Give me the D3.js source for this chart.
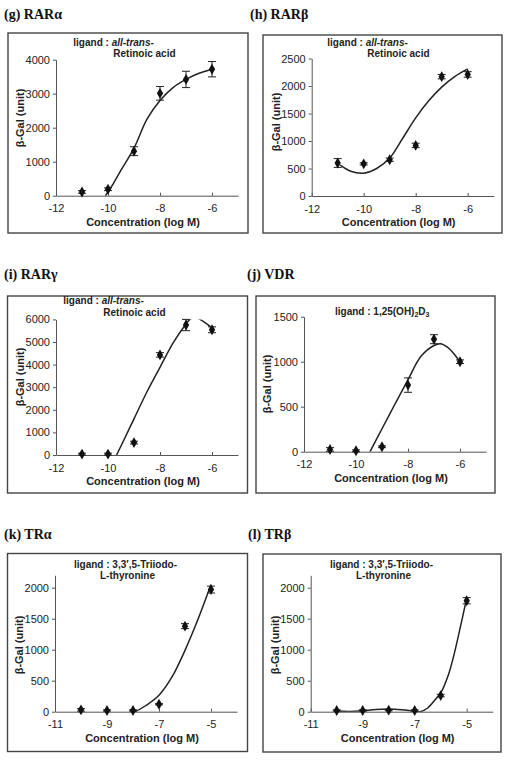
<!DOCTYPE html>
<html><head><meta charset="utf-8">
<script src="https://cdn.jsdelivr.net/npm/d3@7/dist/d3.min.js"></script>
<style>
body{margin:0;background:#fff;}
svg{display:block;}
text{font-family:"Liberation Sans",Arial,sans-serif;fill:#222;}
.title{font-family:"Liberation Serif","Times New Roman",serif;font-weight:bold;font-size:14px;fill:#111;}
</style></head>
<body>
<svg id="c" width="506" height="766"></svg>
<script>
// ---- data ----
const concRAR = [-11, -10, -9, -8, -7, -6];
const concTRa = [-10, -9, -8, -7, -6, -5];
const concTRb = [-10, -9, -8, -7, -6, -5];

const gY   = [110, 190, 1310, 3010, 3420, 3720];
const gErr = [40, 40, 130, 200, 240, 225];
const gCurveX = [-10.1, -9.8, -9.5, -9.0, -8.5, -8.0, -7.5, -7.0, -6.5, -6.0];
const gCurveY = [0, 350, 750, 1400, 2250, 2800, 3180, 3420, 3600, 3720];

const hY   = [600, 585, 660, 920, 2170, 2210];
const hErr = [80, 20, 30, 40, 40, 50];
const hCurveX = [-10.9, -10.5, -10.0, -9.5, -9.0, -8.5, -8.0, -7.5, -7.0, -6.5, -6.0];
const hCurveY = [560, 450, 415, 500, 690, 1050, 1420, 1730, 1980, 2170, 2310];

const iY   = [40, 40, 550, 4430, 5750, 5540];
const iErr = [40, 40, 60, 100, 250, 130];
const iCurveX = [-9.67, -9.5, -9.0, -8.5, -8.0, -7.5, -7.0, -6.85, -6.65, -6.46, -6.2, -6.0];
const iCurveY = [0, 400, 1600, 2800, 3880, 4950, 5800, 6000, 6100, 6000, 5800, 5620];

const jY   = [25, 10, 55, 740, 1250, 1000];
const jErr = [20, 10, 10, 80, 50, 20];
const jCurveX = [-9.46, -9.0, -8.5, -8.0, -7.5, -7.0, -6.75, -6.5, -6.25, -6.0];
const jCurveY = [0, 255, 530, 800, 1060, 1180, 1200, 1165, 1095, 1000];

const kY   = [30, 20, 20, 120, 1380, 1970];
const kErr = [20, 10, 10, 10, 40, 55];
const kCurveX = [-7.92, -7.5, -7.0, -6.5, -6.0, -5.5, -5.0];
const kCurveY = [0, 100, 265, 560, 990, 1490, 2050];

const lY   = [20, 20, 25, 20, 260, 1790];
const lErr = [10, 10, 10, 10, 20, 50];
const lCurveX = [-10.0, -9.5, -9.0, -8.5, -8.0, -7.5, -7.0, -6.8, -6.5, -6.2, -6.0, -5.7, -5.5, -5.3, -5.0];
const lCurveY = [10, 5, 15, 35, 42, 30, 8, 0, 60, 200, 300, 600, 900, 1260, 1830];

const ticksRAR = [-12, -10, -8, -6];
const ticksTR  = [-11, -9, -7, -5];
const yTicksG = [0, 1000, 2000, 3000, 4000];
const yTicksH = [0, 500, 1000, 1500, 2000, 2500];
const yTicksI = [0, 1000, 2000, 3000, 4000, 5000, 6000];
const yTicksJ = [0, 500, 1000, 1500];
const yTicksT = [0, 500, 1000, 1500, 2000];

const titles = ["(g) RAR\u03b1", "(h) RAR\u03b2", "(i) RAR\u03b3", "(j) VDR", "(k) TR\u03b1", "(l) TR\u03b2"];
const xLabel = "Concentration (log M)";
const yLabel = "\u03b2-Gal (unit)";

// ---- layout ----
const panels = [
  {title:titles[0], tx:4, ty:19, frame:[8,33,240,200], xd:[-12,-5], xr:[56,238], yd:[0,4000], yr:[195.7,59.7],
   xt:ticksRAR, yt:yTicksG, x:concRAR, y:gY, e:gErr, cx:gCurveX, cy:gCurveY, lig:"rar", lx:73.3, ly:45.5, ylx:20, yly:118},
  {title:titles[1], tx:250, ty:19, frame:[263,35,239,198], xd:[-12,-5], xr:[311.7,493.7], yd:[0,2500], yr:[196,58.5],
   xt:ticksRAR, yt:yTicksH, x:concRAR, y:hY, e:hErr, cx:hCurveX, cy:hCurveY, lig:"rar", lx:327.3, ly:45.5, ylx:276.5, yly:122},
  {title:titles[2], tx:4, ty:279, frame:[7.5,296,240,197], xd:[-12,-5], xr:[56,238], yd:[0,6000], yr:[455,319.4],
   xt:ticksRAR, yt:yTicksI, x:concRAR, y:iY, e:iErr, cx:iCurveX, cy:iCurveY, lig:"rar", lx:63.3, ly:304, ylx:20, yly:377},
  {title:titles[3], tx:247, ty:279, frame:[256,296,239,197], xd:[-12,-5], xr:[304,486], yd:[0,1500], yr:[451.7,316.7],
   xt:ticksRAR, yt:yTicksJ, x:concRAR, y:jY, e:jErr, cx:jCurveX, cy:jCurveY, lig:"vdr", lx:335, ly:314.5, ylx:267, yly:384},
  {title:titles[4], tx:4, ty:538.5, frame:[7.5,553.5,240,198], xd:[-11,-4], xr:[55,237], yd:[0,2200], yr:[711.7,575.3],
   xt:ticksTR, yt:yTicksT, x:concTRa, y:kY, e:kErr, cx:kCurveX, cy:kCurveY, lig:"tr", lx:74, ly:567.5, ylx:19, yly:645},
  {title:titles[5], tx:248, ty:538.5, frame:[263,554,238,198], xd:[-11,-4], xr:[310.7,492.7], yd:[0,2200], yr:[711.7,575.3],
   xt:ticksTR, yt:yTicksT, x:concTRb, y:lY, e:lErr, cx:lCurveX, cy:lCurveY, lig:"tr", lx:330, ly:567.5, ylx:275, yly:645}
];

const svg = d3.select("#c");
const diamond = d3.symbol().type(d3.symbolDiamond).size(34);

panels.forEach((p, pi) => {
  const g = svg.append("g");
  g.append("text").attr("class","title").attr("x",p.tx).attr("y",p.ty).text(p.title);
  const [fx,fy,fw,fh] = p.frame;
  g.append("rect").attr("x",fx).attr("y",fy).attr("width",fw).attr("height",fh)
    .attr("fill","#fff").attr("stroke","#444").attr("stroke-width",1.4);

  const xs = d3.scaleLinear().domain(p.xd).range(p.xr);
  const ys = d3.scaleLinear().domain(p.yd).range(p.yr);

  // y axis
  const ya = g.append("g").attr("transform",`translate(${p.xr[0]},0)`)
    .call(d3.axisLeft(ys).tickValues(p.yt).tickSize(3).tickSizeOuter(0).tickPadding(3));
  ya.select(".domain").attr("stroke","#555");
  ya.selectAll(".tick line").attr("stroke","#555");
  ya.selectAll("text").style("font-size","11px").attr("fill","#222").style("font-family","'Liberation Sans',Arial,sans-serif");
  ya.selectAll(".tick text").text(d => String(d));

  // x axis (ticks inside)
  const xa = g.append("g").attr("transform",`translate(0,${p.yr[0]})`)
    .call(d3.axisBottom(xs).tickValues(p.xt).tickSizeInner(-3).tickSizeOuter(0).tickPadding(9));
  xa.select(".domain").attr("stroke","#555");
  xa.selectAll(".tick line").attr("stroke","#555");
  xa.selectAll("text").style("font-size","11px").attr("fill","#222").style("font-family","'Liberation Sans',Arial,sans-serif");
  xa.selectAll(".tick text").text(d => String(d));

  // labels
  g.append("text").attr("x",(p.xr[0]+p.xr[1])/2 - 4).attr("y",p.yr[0]+30)
    .attr("text-anchor","middle").style("font-size","11px").style("font-weight","bold").text(xLabel);
  g.append("text").attr("transform",`translate(${p.ylx},${p.yly}) rotate(-90)`)
    .attr("text-anchor","middle").style("font-size","11px").style("font-weight","bold").attr("dy","0.35em").text(yLabel);

  // ligand annotation
  const fs = "10px", gap = 11.5;
  if (p.lig === "rar") {
    const t = g.append("text").attr("x",p.lx).attr("y",p.ly).style("font-size",fs).style("font-weight","bold");
    t.append("tspan").text("ligand : ");
    t.append("tspan").style("font-style","italic").text("all-trans-");
    g.append("text").attr("x",p.lx+40).attr("y",p.ly+gap).style("font-size",fs).style("font-weight","bold").text("Retinoic acid");
  } else if (p.lig === "vdr") {
    const t = g.append("text").attr("x",p.lx).attr("y",p.ly).style("font-size",fs).style("font-weight","bold");
    t.append("tspan").text("ligand : 1,25(OH)");
    t.append("tspan").attr("dy",2.5).style("font-size","7px").text("2");
    t.append("tspan").attr("dy",-2.5).text("D");
    t.append("tspan").attr("dy",2.5).style("font-size","7px").text("3");
  } else {
    g.append("text").attr("x",p.lx).attr("y",p.ly).style("font-size",fs).style("font-weight","bold").text("ligand : 3,3\u2032,5-Triiodo-");
    g.append("text").attr("x",p.lx+26).attr("y",p.ly+gap).style("font-size",fs).style("font-weight","bold").text("L-thyronine");
  }

  // clip for curve
  const cid = "clip"+pi;
  svg.append("clipPath").attr("id",cid).append("rect")
    .attr("x",p.xr[0]).attr("y",p.yr[1]).attr("width",p.xr[1]-p.xr[0]).attr("height",p.yr[0]-p.yr[1]);
  const cpts = p.cx.map((v,i)=>[v,p.cy[i]]);
  g.append("path").datum(cpts).attr("clip-path",`url(#${cid})`)
    .attr("fill","none").attr("stroke","#222").attr("stroke-width",1.5)
    .attr("d", d3.line().x(d=>xs(d[0])).y(d=>ys(d[1])).curve(d3.curveCatmullRom.alpha(0.5)));

  // error bars
  const pts = p.x.map((v,i)=>({x:v, y:p.y[i], e:p.e[i]}));
  const eb = g.append("g").attr("stroke","#222").attr("stroke-width",1);
  pts.forEach(d => {
    const X = xs(d.x), y1 = ys(d.y+d.e), y2 = ys(Math.max(0,d.y-d.e));
    eb.append("line").attr("x1",X).attr("x2",X).attr("y1",y1).attr("y2",y2);
    eb.append("line").attr("x1",X-4).attr("x2",X+4).attr("y1",y1).attr("y2",y1);
    eb.append("line").attr("x1",X-4).attr("x2",X+4).attr("y1",y2).attr("y2",y2);
  });
  // markers
  g.selectAll("path.m").data(pts).join("path").attr("class","m")
    .attr("transform",d=>`translate(${xs(d.x)},${ys(d.y)})`).attr("d",diamond).attr("fill","#111");
});
</script>
</body></html>
